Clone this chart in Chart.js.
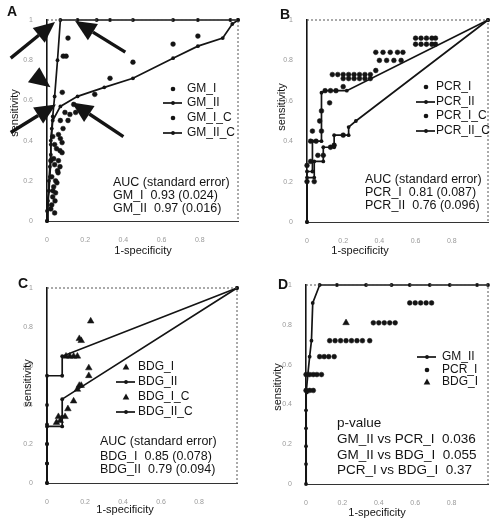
<!DOCTYPE html>
<html>
<head>
<meta charset="utf-8">
<script src="https://cdn.jsdelivr.net/npm/chart.js@4.4.0/dist/chart.umd.min.js"></script>
<style>
body { margin: 0; background: #fff; width: 495px; height: 526px; position: relative; overflow: hidden; }
.panel { position: absolute; }
</style>
</head>
<body>
<div class="panel" style="left:0;top:0;width:250px;height:263px"><canvas id="chartA"></canvas></div>
<div class="panel" style="left:250px;top:0;width:245px;height:263px"><canvas id="chartB"></canvas></div>
<div class="panel" style="left:0;top:263px;width:250px;height:263px"><canvas id="chartC"></canvas></div>
<div class="panel" style="left:250px;top:263px;width:245px;height:263px"><canvas id="chartD"></canvas></div>
<script>
// ---- values (1-specificity / sensitivity) ----
var axisTicks = [0, 0.2, 0.4, 0.6, 0.8, 1];

// A: galactomannan
var gmI_fpr = [0.11, 0.085, 0.1, 0.45, 0.33, 0.08, 0.25, 0.14, 0.15, 0.66, 0.79, 0.07];
var gmI_tpr = [0.91, 0.82, 0.82, 0.79, 0.71, 0.64, 0.63, 0.58, 0.54, 0.88, 0.92, 0.5];
var gmII_fpr = [0, 0, 0.005, 0.01, 0.01, 0.015, 0.02, 0.02, 0.025, 0.03, 0.04, 0.055, 0.07, 0.16, 0.26, 0.33, 0.45, 0.66, 0.79, 0.96, 1];
var gmII_tpr = [0, 0.05, 0.1, 0.15, 0.2, 0.27, 0.33, 0.4, 0.46, 0.52, 0.62, 0.8, 1, 1, 1, 1, 1, 1, 1, 1, 1];
var gmIC_fpr = [0.094, 0.12, 0.11, 0.084, 0.079, 0.068, 0.079, 0.068, 0.058, 0.052, 0.031, 0.042, 0.03, 0.04, 0.02, 0.035,
                0.025, 0.045, 0.03, 0.02, 0.06, 0.07, 0.05, 0.06, 0.04, 0.055, 0.035, 0.045, 0.025, 0.04];
var gmIC_tpr = [0.54, 0.53, 0.5, 0.46, 0.39, 0.35, 0.34, 0.27, 0.24, 0.19, 0.15, 0.1, 0.42, 0.38, 0.3, 0.31,
                0.22, 0.2, 0.12, 0.06, 0.43, 0.41, 0.36, 0.3, 0.28, 0.25, 0.17, 0.14, 0.08, 0.04];
var gmIIC_fpr = [0, 0.005, 0.01, 0.015, 0.02, 0.02, 0.03, 0.07, 0.16, 0.3, 0.45, 0.66, 0.79, 0.92, 0.97, 1];
var gmIIC_tpr = [0, 0.08, 0.15, 0.22, 0.3, 0.38, 0.5, 0.57, 0.62, 0.665, 0.71, 0.81, 0.87, 0.91, 0.98, 1];
var gmAuc = ['AUC (standard error)', 'GM_I  0.93 (0.024)', 'GM_II  0.97 (0.016)'];

// B: PCR
var pcrI_fpr = [0.6, 0.63, 0.66, 0.69, 0.71, 0.6, 0.63, 0.66, 0.69, 0.71, 0.38, 0.42, 0.46, 0.5, 0.53, 0.4, 0.44, 0.48, 0.52, 0.38,
                0.14, 0.17, 0.2, 0.23, 0.26, 0.29, 0.32, 0.35, 0.2, 0.23, 0.26, 0.29, 0.32, 0.35, 0.1, 0.13, 0.16, 0.2, 0.125, 0.08];
var pcrI_tpr = [0.91, 0.91, 0.91, 0.91, 0.91, 0.88, 0.88, 0.88, 0.88, 0.88, 0.84, 0.84, 0.84, 0.84, 0.84, 0.8, 0.8, 0.8, 0.8, 0.75,
                0.73, 0.73, 0.73, 0.73, 0.73, 0.73, 0.73, 0.73, 0.71, 0.71, 0.71, 0.71, 0.71, 0.71, 0.65, 0.65, 0.65, 0.67, 0.59, 0.55];
var pcrII_fpr = [0, 0, 0.03, 0.03, 0.08, 0.08, 0.1, 0.16, 0.22, 1];
var pcrII_tpr = [0, 0.25, 0.25, 0.4, 0.4, 0.64, 0.65, 0.65, 0.65, 1];
var pcrIC_fpr = [0.02, 0.05, 0.08, 0.07, 0, 0.02, 0.06, 0.09, 0.13, 0.15, 0.2, 0.04, 0, 0.03];
var pcrIC_tpr = [0.4, 0.4, 0.45, 0.5, 0.28, 0.3, 0.33, 0.33, 0.37, 0.38, 0.43, 0.2, 0.2, 0.45];
var pcrIIC_fpr = [0, 0, 0.04, 0.04, 0.09, 0.09, 0.15, 0.15, 0.23, 0.23, 0.27, 1];
var pcrIIC_tpr = [0, 0.22, 0.22, 0.3, 0.3, 0.37, 0.37, 0.43, 0.43, 0.47, 0.5, 1];
var pcrAuc = ['AUC (standard error)', 'PCR_I  0.81 (0.087)', 'PCR_II  0.76 (0.096)'];

// C: beta-D-glucan
var bdgI_fpr = [0.23, 0.18, 0.17, 0.1, 0.12, 0.14, 0.16];
var bdgI_tpr = [0.83, 0.73, 0.74, 0.65, 0.65, 0.65, 0.65];
var bdgII_fpr = [0, 0, 0, 0, 0, 0, 0.08, 0.08, 1];
var bdgII_tpr = [0, 0.1, 0.2, 0.3, 0.4, 0.55, 0.55, 0.65, 1];
var bdgIC_fpr = [0.22, 0.22, 0.17, 0.18, 0.16, 0.14, 0.11, 0.095, 0.06, 0.07, 0.05];
var bdgIC_tpr = [0.59, 0.55, 0.5, 0.5, 0.48, 0.42, 0.38, 0.34, 0.34, 0.32, 0.31];
var bdgIIC_fpr = [0, 0, 0, 0, 0.08, 0.08, 0.08, 1];
var bdgIIC_tpr = [0, 0.1, 0.2, 0.29, 0.29, 0.34, 0.43, 1];
var bdgAuc = ['AUC (standard error)', 'BDG_I  0.85 (0.078)', 'BDG_II  0.79 (0.094)'];

// D: comparison of the best curves
var dGmII_fpr = [0, 0, 0, 0, 0, 0.005, 0.01, 0.02, 0.03, 0.037, 0.075, 0.17, 0.33, 0.47, 0.57, 0.68, 0.79, 0.94, 1];
var dGmII_tpr = [0, 0.1, 0.19, 0.28, 0.37, 0.46, 0.55, 0.64, 0.72, 0.91, 1, 1, 1, 1, 1, 1, 1, 1, 1];
var dPcrI_fpr = [0.57, 0.6, 0.63, 0.66, 0.69, 0.37, 0.4, 0.43, 0.46, 0.49, 0.13, 0.16, 0.19, 0.22, 0.25, 0.28, 0.31, 0.35,
                 0.075, 0.1, 0.125, 0.155, 0, 0.02, 0.04, 0.06, 0.085, 0, 0.02, 0.04];
var dPcrI_tpr = [0.91, 0.91, 0.91, 0.91, 0.91, 0.81, 0.81, 0.81, 0.81, 0.81, 0.72, 0.72, 0.72, 0.72, 0.72, 0.72, 0.72, 0.72,
                 0.64, 0.64, 0.64, 0.64, 0.55, 0.55, 0.55, 0.55, 0.55, 0.47, 0.47, 0.47];
var dBdgI_fpr = [0.22];
var dBdgI_tpr = [0.81];
var pValues = ['p-value', 'GM_II vs PCR_I  0.036', 'GM_II vs BDG_I  0.055', 'PCR_I vs BDG_I  0.37'];

// arrows in A (tail -> tip, data units); a tail equal to null draws the head only
var arrowsA = [
    [-0.19, 0.81, 0.042, 0.99],
    [0.41, 0.84, 0.147, 0.995],
    [null, null, 0.018, 0.665],
    [-0.19, 0.44, 0.047, 0.58],
    [0.40, 0.42, 0.13, 0.59]
];

var INK = '#141414';
var FONT = '"Liberation Sans", Arial, sans-serif';

function pts(xs, ys) {
    return xs.map(function (x, i) { return { x: x, y: ys[i] }; });
}
function lineSet(label, xs, ys) {
    return { label: label, data: pts(xs, ys), showLine: true, borderColor: INK, borderWidth: 1.7,
             pointRadius: 1.9, pointBackgroundColor: INK, pointBorderWidth: 0, clip: false };
}
function dotSet(label, xs, ys, style) {
    return { label: label, data: pts(xs, ys), showLine: false, pointStyle: style || 'circle',
             pointRadius: style === 'triangle' ? 3.8 : 2.4, pointBackgroundColor: INK,
             pointBorderColor: INK, pointBorderWidth: 0.5, clip: false };
}

function drawMarker(ctx, kind, x, y) {
    ctx.fillStyle = INK;
    ctx.strokeStyle = INK;
    if (kind === 'line') {
        ctx.lineWidth = 1.7;
        ctx.beginPath(); ctx.moveTo(x - 10, y); ctx.lineTo(x + 9, y); ctx.stroke();
        ctx.beginPath(); ctx.arc(x, y, 1.9, 0, Math.PI * 2); ctx.fill();
    } else if (kind === 'tri') {
        ctx.beginPath(); ctx.moveTo(x, y - 3.6); ctx.lineTo(x + 3.3, y + 2.6); ctx.lineTo(x - 3.3, y + 2.6); ctx.closePath(); ctx.fill();
    } else {
        ctx.beginPath(); ctx.arc(x, y, 2.3, 0, Math.PI * 2); ctx.fill();
    }
}

function drawArrow(ctx, x1, y1, x2, y2, headOnly) {
    var a = Math.atan2(y2 - y1, x2 - x1), len = 21, half = 9.5;
    var bx = x2 - len * Math.cos(a), by = y2 - len * Math.sin(a);
    ctx.strokeStyle = INK; ctx.fillStyle = INK; ctx.lineWidth = 3.4;
    if (!headOnly) {
        ctx.beginPath(); ctx.moveTo(x1, y1); ctx.lineTo(bx, by); ctx.stroke();
    }
    ctx.beginPath();
    ctx.moveTo(x2, y2);
    ctx.lineTo(bx + half * Math.sin(a), by - half * Math.cos(a));
    ctx.lineTo(bx - half * Math.sin(a), by + half * Math.cos(a));
    ctx.closePath(); ctx.fill();
}

// letters, titles, legend, notes and the dotted top/right frame
function decoPlugin(d) {
    return {
        id: 'deco',
        afterDraw: function (chart) {
            var ctx = chart.ctx, ca = chart.chartArea;
            ctx.save();
            ctx.strokeStyle = '#555'; ctx.lineWidth = 1; ctx.setLineDash([2, 2]);
            ctx.beginPath(); ctx.moveTo(ca.left, ca.top); ctx.lineTo(ca.right, ca.top); ctx.lineTo(ca.right, ca.bottom); ctx.stroke();
            ctx.setLineDash([]);

            if (d.arrows) {
                var sx = chart.scales.x, sy = chart.scales.y;
                d.arrows.forEach(function (r) {
                    var tx = sx.getPixelForValue(r[2]), ty = sy.getPixelForValue(r[3]);
                    if (r[0] === null) {
                        // short head pointing down-right
                        drawArrow(ctx, tx - 20, ty - 15, tx, ty, true);
                    } else {
                        drawArrow(ctx, sx.getPixelForValue(r[0]), sy.getPixelForValue(r[1]), tx, ty, false);
                    }
                });
            }

            ctx.fillStyle = INK;
            ctx.textBaseline = 'middle';
            ctx.font = 'bold 14px ' + FONT;
            ctx.textAlign = 'center';
            ctx.fillText(d.letter, d.letterAt[0], d.letterAt[1]);

            ctx.font = '11px ' + FONT;
            ctx.fillText('1-specificity', d.xTitle[0], d.xTitle[1]);
            ctx.save();
            ctx.translate(d.yTitle[0], d.yTitle[1]);
            ctx.rotate(-Math.PI / 2);
            ctx.fillText('sensitivity', 0, 0);
            ctx.restore();

            ctx.textAlign = 'left';
            ctx.font = d.legendFont + 'px ' + FONT;
            d.legend.forEach(function (item, i) {
                drawMarker(ctx, item[1], d.legendMarkX, d.legendY[i]);
                ctx.fillStyle = INK;
                ctx.fillText(item[0], d.legendTextX, d.legendY[i]);
            });

            ctx.font = d.noteFont + 'px ' + FONT;
            d.notes.forEach(function (t, i) {
                ctx.fillText(t, d.noteX, d.noteY[i]);
            });
            ctx.restore();
        }
    };
}

function makePanel(id, datasets, box, deco) {
    return new Chart(document.getElementById(id), {
        type: 'scatter',
        data: { datasets: datasets },
        options: {
            responsive: true,
            maintainAspectRatio: false,
            animation: false,
            layout: { padding: { top: box.top, right: box.right, left: 0, bottom: 0 } },
            plugins: { legend: { display: false }, tooltip: { enabled: false } },
            scales: {
                x: {
                    type: 'linear', min: 0, max: 1,
                    afterFit: function (s) { s.height = box.xh; },
                    afterBuildTicks: function (s) { s.ticks = axisTicks.map(function (v) { return { value: v }; }); },
                    grid: { display: false },
                    border: { display: true, color: '#333', width: 1, dash: [3, 2] },
                    ticks: { color: '#9a9a9a', font: { size: 7, family: FONT }, padding: 7, maxRotation: 0,
                             callback: function (v) { return v === 1 ? '' : String(Math.round(v * 10) / 10); } }
                },
                y: {
                    type: 'linear', min: 0, max: 1,
                    afterFit: function (s) { s.width = box.yw; },
                    afterBuildTicks: function (s) { s.ticks = axisTicks.map(function (v) { return { value: v }; }); },
                    grid: { display: false },
                    border: { display: true, color: INK, width: 1.6 },
                    ticks: { color: '#9a9a9a', font: { size: 7, family: FONT }, padding: 6,
                             callback: function (v) { return String(Math.round(v * 10) / 10); } }
                }
            }
        },
        plugins: [decoPlugin(deco)]
    });
}

makePanel('chartA', [
    lineSet('GM_II', gmII_fpr, gmII_tpr),
    lineSet('GM_II_C', gmIIC_fpr, gmIIC_tpr),
    dotSet('GM_I', gmI_fpr, gmI_tpr),
    dotSet('GM_I_C', gmIC_fpr, gmIC_tpr)
], { top: 20, right: 12, yw: 47, xh: 42 }, {
    letter: 'A', letterAt: [12, 12], xTitle: [143, 251], yTitle: [15, 113],
    legend: [['GM_I', 'dot'], ['GM_II', 'line'], ['GM_I_C', 'dot'], ['GM_II_C', 'line']],
    legendFont: 12, legendMarkX: 173, legendTextX: 187, legendY: [89, 103, 118, 133],
    notes: gmAuc, noteFont: 12.5, noteX: 113, noteY: [183, 196, 209],
    arrows: arrowsA
});

makePanel('chartB', [
    lineSet('PCR_II', pcrII_fpr, pcrII_tpr),
    lineSet('PCR_II_C', pcrIIC_fpr, pcrIIC_tpr),
    dotSet('PCR_I', pcrI_fpr, pcrI_tpr),
    dotSet('PCR_I_C', pcrIC_fpr, pcrIC_tpr)
], { top: 20, right: 4, yw: 57, xh: 41 }, {
    letter: 'B', letterAt: [35, 15], xTitle: [110, 251], yTitle: [32, 107],
    legend: [['PCR_I', 'dot'], ['PCR_II', 'line'], ['PCR_I_C', 'dot'], ['PCR_II_C', 'line']],
    legendFont: 12, legendMarkX: 176, legendTextX: 186, legendY: [87, 102, 116, 131],
    notes: pcrAuc, noteFont: 12.5, noteX: 115, noteY: [180, 193, 206]
});

makePanel('chartC', [
    lineSet('BDG_II', bdgII_fpr, bdgII_tpr),
    lineSet('BDG_II_C', bdgIIC_fpr, bdgIIC_tpr),
    dotSet('BDG_I', bdgI_fpr, bdgI_tpr, 'triangle'),
    dotSet('BDG_I_C', bdgIC_fpr, bdgIC_tpr, 'triangle')
], { top: 25, right: 13, yw: 47, xh: 43 }, {
    letter: 'C', letterAt: [23, 21], xTitle: [125, 247], yTitle: [28, 120],
    legend: [['BDG_I', 'tri'], ['BDG_II', 'line'], ['BDG_I_C', 'tri'], ['BDG_II_C', 'line']],
    legendFont: 12, legendMarkX: 126, legendTextX: 138, legendY: [104, 119, 134, 149],
    notes: bdgAuc, noteFont: 12.5, noteX: 100, noteY: [179, 194, 207]
});

makePanel('chartD', [
    lineSet('GM_II', dGmII_fpr, dGmII_tpr),
    dotSet('PCR_I', dPcrI_fpr, dPcrI_tpr),
    dotSet('BDG_I', dBdgI_fpr, dBdgI_tpr, 'triangle')
], { top: 22, right: 2, yw: 56, xh: 42 }, {
    letter: 'D', letterAt: [33, 22], xTitle: [127, 250], yTitle: [28, 124],
    legend: [['GM_II', 'line'], ['PCR_I', 'dot'], ['BDG_I', 'tri']],
    legendFont: 12, legendMarkX: 177, legendTextX: 192, legendY: [94, 107, 119],
    notes: pValues, noteFont: 13.5, noteX: 87, noteY: [160, 176, 192, 207]
});
</script>
</body>
</html>
